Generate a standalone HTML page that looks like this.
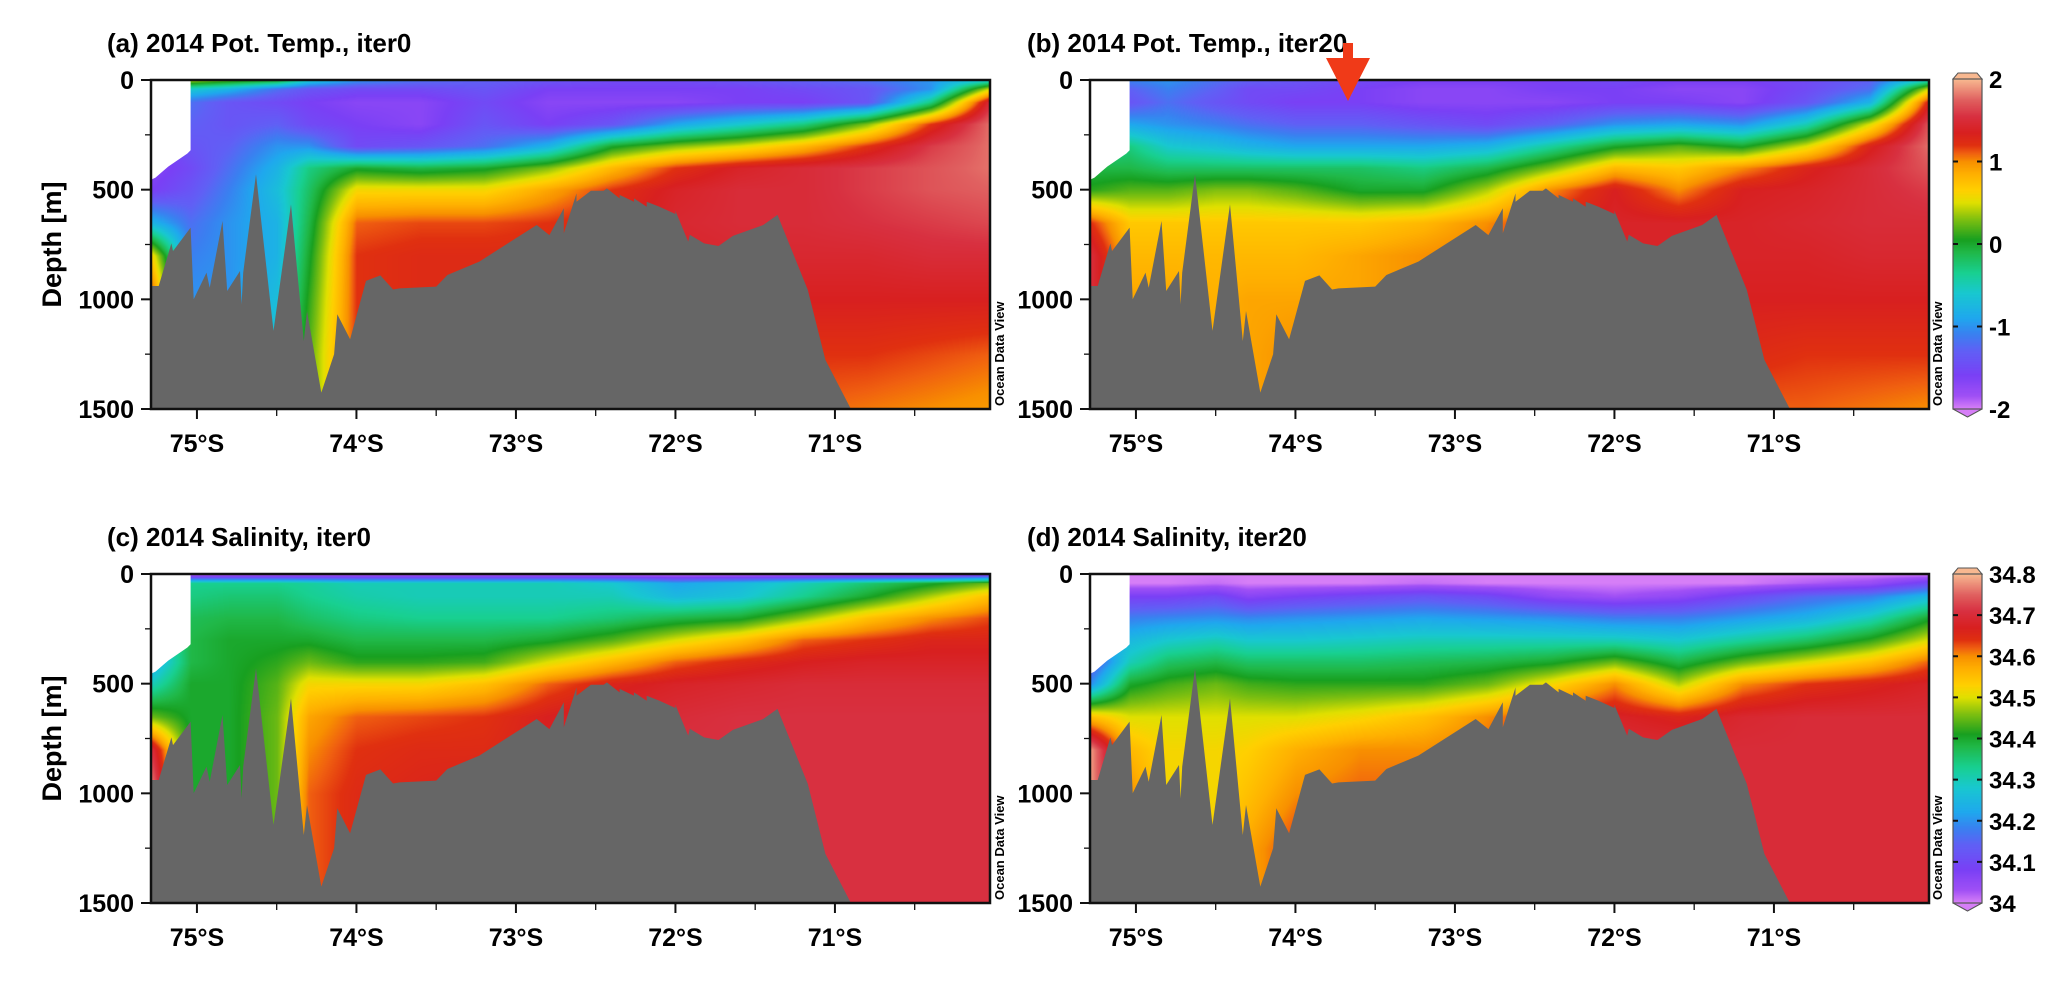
<!DOCTYPE html>
<html><head><meta charset="utf-8">
<style>
html,body{margin:0;padding:0;background:#fff;}
#root{position:relative;width:2067px;height:989px;overflow:hidden;font-family:"Liberation Sans",Arial,sans-serif;}
canvas{position:absolute;}
svg{position:absolute;left:0;top:0;}
text{font-family:"Liberation Sans",Arial,sans-serif;font-weight:bold;fill:#000;}
</style></head>
<body>
<div id="root">
<canvas id="cva" width="839" height="329" style="left:151px;top:80px"></canvas>
<canvas id="cvb" width="839" height="329" style="left:1090px;top:80px"></canvas>
<canvas id="cvc" width="839" height="329" style="left:151px;top:574px"></canvas>
<canvas id="cvd" width="839" height="329" style="left:1090px;top:574px"></canvas>
<canvas id="cb1" width="29" height="330" style="left:1953px;top:79px"></canvas>
<canvas id="cb2" width="29" height="329" style="left:1953px;top:574px"></canvas>
<svg id="ov" width="2067" height="989"></svg>
</div>
<script>
// ---- grid data ----
const lats=[75.28,75.04,74.8,74.5,74.3,74.0,73.6,73.2,72.8,72.4,72.0,71.6,71.2,70.8,70.4,70.03];
const depths=[0,40,100,200,300,400,500,650,800,1000,1250,1500];
const tempIter0=[
[-1.6,0.4,0.2,0.0,-0.6,-1.0,-1.2,-1.3,-1.4,-1.5,-1.5,-1.4,-1.3,-1.2,-1.0,-0.6],
[-1.6,-0.6,-0.8,-1.2,-1.4,-1.5,-1.5,-1.4,-1.6,-1.6,-1.6,-1.6,-1.5,-1.4,-1.0,0.5],
[-1.6,-1.2,-1.4,-1.5,-1.6,-1.7,-1.7,-1.5,-1.7,-1.7,-1.7,-1.6,-1.6,-1.4,-0.3,1.5],
[-1.7,-1.3,-1.4,-1.3,-1.5,-1.6,-1.7,-1.4,-1.6,-1.4,-0.9,-0.6,-0.3,0.3,1.2,1.8],
[-1.7,-1.4,-1.3,-1.0,-1.0,-1.5,-1.4,-1.2,-0.8,0.0,0.3,0.5,0.8,1.2,1.6,1.8],
[-1.7,-1.5,-1.2,-0.8,-0.3,0.0,-0.1,0.0,0.3,0.8,1.2,1.4,1.5,1.6,1.7,1.8],
[-1.6,-1.4,-1.1,-0.7,-0.2,0.6,0.6,0.6,0.9,1.2,1.4,1.5,1.5,1.6,1.7,1.75],
[-0.8,-1.2,-1.0,-0.8,-0.1,1.1,1.15,1.15,1.2,1.3,1.45,1.5,1.5,1.55,1.6,1.65],
[0.6,-1.1,-1.0,-0.8,0.0,1.2,1.25,1.25,1.25,1.3,1.4,1.45,1.45,1.45,1.5,1.5],
[1.2,-1.0,-1.0,-0.7,0.1,1.2,1.25,1.25,1.25,1.3,1.35,1.35,1.35,1.35,1.35,1.35],
[1.2,-1.0,-1.0,-0.6,0.2,1.2,1.2,1.15,1.15,1.2,1.2,1.2,1.2,1.2,1.15,1.1],
[1.2,-1.0,-1.0,-0.6,0.2,1.2,1.2,1.1,1.1,1.1,1.1,1.1,1.1,1.05,1.0,0.95]];
const tempIter20=[
[-1.5,-1.1,-1.0,-1.2,-1.3,-1.4,-1.5,-1.6,-1.6,-1.6,-1.5,-1.6,-1.6,-1.5,-1.3,-0.5],
[-1.5,-1.3,-1.1,-1.3,-1.5,-1.5,-1.6,-1.7,-1.7,-1.6,-1.6,-1.7,-1.7,-1.5,-1.2,0.5],
[-1.5,-1.4,-1.2,-1.4,-1.5,-1.6,-1.6,-1.7,-1.7,-1.7,-1.6,-1.6,-1.7,-1.4,-0.8,1.3],
[-1.2,-0.9,-1.0,-1.1,-1.2,-1.3,-1.3,-1.4,-1.5,-1.3,-1.0,-0.9,-1.0,-0.5,0.5,1.7],
[-0.4,-0.3,-0.6,-0.7,-0.8,-0.9,-0.9,-0.9,-0.8,-0.4,0.0,0.2,0.0,0.5,1.3,1.8],
[-0.1,-0.1,-0.2,-0.2,-0.2,-0.2,-0.2,-0.3,-0.1,0.3,0.8,0.7,1.0,1.3,1.5,1.7],
[0.1,0.2,0.2,0.3,0.3,0.2,0.0,0.0,0.4,1.0,1.35,1.0,1.35,1.4,1.5,1.6],
[1.2,0.7,0.7,0.7,0.7,0.7,0.7,0.8,1.0,1.3,1.4,1.4,1.4,1.45,1.5,1.5],
[1.5,0.8,0.8,0.8,0.8,0.8,0.9,1.0,1.1,1.35,1.4,1.4,1.4,1.4,1.45,1.45],
[1.5,0.9,0.9,0.85,0.9,0.9,0.9,1.0,1.1,1.3,1.35,1.35,1.35,1.35,1.35,1.35],
[1.5,0.9,0.9,0.85,0.9,1.0,1.0,1.0,1.1,1.2,1.25,1.25,1.25,1.2,1.2,1.2],
[1.5,0.9,0.9,0.85,0.9,1.0,1.0,1.0,1.1,1.1,1.1,1.1,1.1,1.1,1.05,1.0]];
const salIter0=[
[34.3,34.0,34.0,34.0,34.0,34.0,34.0,34.0,34.0,34.0,34.0,34.0,34.0,34.0,34.0,34.05],
[34.3,34.33,34.33,34.33,34.32,34.3,34.3,34.3,34.3,34.28,34.22,34.25,34.3,34.35,34.4,34.45],
[34.3,34.34,34.35,34.35,34.33,34.31,34.3,34.3,34.3,34.3,34.25,34.27,34.33,34.4,34.48,34.55],
[34.3,34.37,34.38,34.38,34.36,34.34,34.33,34.33,34.33,34.35,34.38,34.4,34.47,34.55,34.6,34.63],
[34.25,34.38,34.4,34.4,34.4,34.38,34.38,34.38,34.4,34.44,34.5,34.55,34.62,34.64,34.66,34.66],
[34.22,34.38,34.4,34.42,34.45,34.42,34.42,34.43,34.5,34.56,34.62,34.65,34.67,34.68,34.68,34.68],
[34.3,34.4,34.4,34.44,34.52,34.52,34.52,34.55,34.62,34.66,34.68,34.69,34.7,34.7,34.7,34.7],
[34.45,34.4,34.4,34.45,34.58,34.62,34.63,34.64,34.67,34.69,34.7,34.71,34.71,34.71,34.71,34.71],
[34.7,34.4,34.4,34.45,34.6,34.64,34.65,34.65,34.67,34.69,34.71,34.71,34.71,34.71,34.71,34.71],
[34.78,34.4,34.4,34.45,34.62,34.65,34.66,34.67,34.68,34.7,34.71,34.71,34.71,34.71,34.71,34.71],
[34.78,34.4,34.4,34.45,34.62,34.65,34.66,34.67,34.68,34.7,34.71,34.71,34.71,34.71,34.71,34.71],
[34.78,34.4,34.4,34.45,34.62,34.65,34.66,34.67,34.68,34.7,34.71,34.71,34.71,34.71,34.71,34.71]];
const salIter20=[
[34.1,34.0,34.0,34.0,34.0,34.0,34.0,34.0,34.0,34.0,34.0,34.0,34.0,34.0,34.0,34.0],
[34.1,34.0,34.0,34.01,34.0,34.0,34.0,34.01,34.0,34.0,34.0,34.0,34.0,34.02,34.04,34.1],
[34.12,34.08,34.08,34.1,34.06,34.08,34.1,34.12,34.1,34.05,34.03,34.05,34.1,34.15,34.18,34.25],
[34.18,34.18,34.19,34.2,34.19,34.2,34.21,34.22,34.21,34.2,34.18,34.18,34.21,34.24,34.3,34.4],
[34.2,34.25,34.28,34.3,34.28,34.28,34.29,34.3,34.3,34.3,34.3,34.28,34.32,34.36,34.42,34.5],
[34.12,34.3,34.36,34.38,34.36,34.36,34.36,34.37,34.38,34.4,34.45,34.38,34.45,34.5,34.55,34.62],
[34.2,34.4,34.43,34.45,34.43,34.42,34.42,34.42,34.45,34.52,34.6,34.48,34.6,34.64,34.66,34.68],
[34.55,34.5,34.5,34.5,34.5,34.5,34.52,34.55,34.6,34.65,34.68,34.66,34.69,34.7,34.7,34.7],
[34.78,34.56,34.52,34.52,34.53,34.57,34.6,34.6,34.62,34.67,34.7,34.7,34.7,34.7,34.7,34.7],
[34.78,34.6,34.52,34.52,34.55,34.6,34.62,34.62,34.64,34.68,34.7,34.7,34.7,34.7,34.7,34.7],
[34.78,34.6,34.52,34.53,34.58,34.64,34.64,34.64,34.65,34.68,34.7,34.7,34.7,34.7,34.7,34.7],
[34.78,34.6,34.52,34.53,34.58,34.64,34.64,34.64,34.65,34.68,34.7,34.7,34.7,34.7,34.7,34.7]];
const bathyLat=[75.288,75.24,75.16,75.15,75.04,75.02,74.94,74.92,74.84,74.81,74.73,74.72,74.71,74.63,74.52,74.41,74.33,74.31,74.22,74.14,74.12,74.04,73.94,73.85,73.77,73.73,73.50,73.43,73.23,72.87,72.79,72.70,72.70,72.62,72.62,72.53,72.45,72.43,72.35,72.35,72.26,72.26,72.18,72.18,72.10,72.00,72.00,71.92,71.91,71.82,71.73,71.64,71.45,71.36,71.17,71.06,70.90];
const bathyDepth=[939,939,745,780,673,1000,878,947,643,962,871,1023,878,430,1144,567,1190,1053,1425,1250,1068,1182,916,891,955,950,942,889,828,661,707,585,699,517,555,505,505,494,540,524,555,540,578,555,578,611,596,737,706,745,757,711,661,615,957,1276,1500];
const maskLat=[75.288,75.288,75.26,75.22,75.18,75.14,75.10,75.06,75.04,75.04];
const maskDepth=[0,455,445,420,395,375,355,335,320,0];
const tempTicks=[2,1,0,-1,-2];
const salTicks=[34.8,34.7,34.6,34.5,34.4,34.3,34.2,34.1,34];
const latTicks=[75,74,73,72,71];
const depthTicks=[0,500,1000,1500];

// ---- colormap ----
const CM=[[-2,'d67ef7'],[-1.85,'a050f5'],[-1.6,'7a40f5'],[-1.3,'6060f5'],[-1.1,'3a80f0'],[-0.9,'1fa8ee'],[-0.6,'18c8d0'],[-0.35,'18d090'],[-0.1,'20b848'],[0.05,'18a020'],[0.3,'80c010'],[0.5,'e0e000'],[0.65,'ffd000'],[0.85,'ffb000'],[1.0,'f89000'],[1.1,'f06010'],[1.2,'e03010'],[1.35,'d82020'],[1.55,'d83040'],[1.75,'e06060'],[2.0,'f8b890']];
const CMr=CM.map(s=>[s[0],parseInt(s[1].slice(0,2),16),parseInt(s[1].slice(2,4),16),parseInt(s[1].slice(4,6),16)]);
function cmap(t){
  if(t<=CMr[0][0])return CMr[0].slice(1);
  for(let i=1;i<CMr.length;i++){if(t<=CMr[i][0]){const a=CMr[i-1],b=CMr[i],f=(t-a[0])/(b[0]-a[0]);return [a[1]+(b[1]-a[1])*f,a[2]+(b[2]-a[2])*f,a[3]+(b[3]-a[3])*f];}}
  return CMr[CMr.length-1].slice(1);
}
// ---- scales ----
const PW=839,PH=329,LAT0=75.288,PXDEG=159.5;
function xs(lat){return (LAT0-lat)*PXDEG;}
function ys(d){return d/1500*PH;}
function interp(grid,lat,d){
  let i=0;while(i<lats.length-2&&lat<lats[i+1])i++;
  let fx=(lats[i]-lat)/(lats[i]-lats[i+1]);fx=Math.max(0,Math.min(1,fx));
  let j=0;while(j<depths.length-2&&d>depths[j+1])j++;
  let fy=(d-depths[j])/(depths[j+1]-depths[j]);fy=Math.max(0,Math.min(1,fy));
  const a=grid[j][i],b=grid[j][i+1],c=grid[j+1][i],e=grid[j+1][i+1];
  return (a*(1-fx)+b*fx)*(1-fy)+(c*(1-fx)+e*fx)*fy;
}
function drawField(id,grid,toT){
  const cv=document.getElementById(id),ctx=cv.getContext('2d');
  const img=ctx.createImageData(PW,PH);
  for(let y=0;y<PH;y++){const d=y/PH*1500;
    for(let x=0;x<PW;x++){const lat=LAT0-x/PXDEG;const c=cmap(toT(interp(grid,lat,d)));const k=(y*PW+x)*4;
      img.data[k]=c[0];img.data[k+1]=c[1];img.data[k+2]=c[2];img.data[k+3]=255;}}
  ctx.putImageData(img,0,0);
}
const idT=v=>v, salT=v=>(v-34.4)*5;
drawField('cva',tempIter0,idT);drawField('cvb',tempIter20,idT);
drawField('cvc',salIter0,salT);drawField('cvd',salIter20,salT);
function drawBar(id){const cv=document.getElementById(id),ctx=cv.getContext('2d');const h=cv.height;
  for(let y=0;y<h;y++){const c=cmap(2-4*y/(h-1));ctx.fillStyle='rgb('+c.map(Math.round).join(',')+')';ctx.fillRect(0,y,29,1);}}
drawBar('cb1');drawBar('cb2');

// ---- overlay ----
const NS='http://www.w3.org/2000/svg',ov=document.getElementById('ov');
function mk(tag,attrs,parent){const e=document.createElementNS(NS,tag);for(const k in attrs)e.setAttribute(k,attrs[k]);(parent||ov).appendChild(e);return e;}
const panels=[
 {x:151,y:80,id:'a',title:'(a)  2014 Pot. Temp., iter0',left:true},
 {x:1090,y:80,id:'b',title:'(b)  2014 Pot. Temp., iter20',left:false},
 {x:151,y:574,id:'c',title:'(c)  2014 Salinity, iter0',left:true},
 {x:1090,y:574,id:'d',title:'(d)  2014 Salinity, iter20',left:false}];
panels.forEach(p=>{
  const g=mk('g',{transform:'translate('+p.x+','+p.y+')'});
  
  
  let pts=maskLat.map((l,i)=>xs(l).toFixed(1)+','+ys(maskDepth[i]).toFixed(1)).join(' ');
  const m=mk('polygon',{points:pts,fill:'#fff'},g);
  
  
  pts=bathyLat.map((l,i)=>xs(l).toFixed(1)+','+ys(bathyDepth[i]).toFixed(1)).join(' ')+' '+xs(70.90).toFixed(1)+','+PH+' 0,'+PH;
  const b=mk('polygon',{points:pts,fill:'#666666'},g);
  
  
  const fr=mk('rect',{x:0,y:0,width:PW,height:PH,fill:'none',stroke:'#111',"stroke-width":2.5},g);
  
  
  for(let d=0;d<=1500;d+=250){const y=ys(d);const major=d%500===0;
    mk('line',{x1:major?-10:-6,x2:0,y1:y,y2:y,stroke:'#111',"stroke-width":major?2:1.3},g);}
  depthTicks.forEach(d=>{const t=mk('text',{x:-17,y:ys(d)+9,"text-anchor":'end',"font-size":25},g);t.textContent=d;
    
    });
  for(let l=75.5;l>=70.0;l-=0.5){const x=xs(l);if(x<0||x>PW)continue;const major=Math.abs(l-Math.round(l))<0.01;
    mk('line',{x1:x,x2:x,y1:PH,y2:PH+(major?10:7),stroke:'#111',"stroke-width":major?2:1.3},g);}
  latTicks.forEach(l=>{const t=mk('text',{x:xs(l),y:PH+43,"text-anchor":'middle',"font-size":25},g);t.textContent=l+'\u00B0S';
    
    });
  const tt=mk('text',{x:(p.left?107:1027)-p.x,y:-28,"font-size":26},g);tt.textContent=p.title;
  
  
  const ox=p.left?853:852;
  const od=mk('text',{transform:'translate('+(ox)+','+(PH-3)+') rotate(-90)',"font-size":13},g);od.textContent='Ocean Data View';
  
  
  if(p.left){const yl=mk('text',{transform:'translate('+(61-p.x)+','+(PH/2)+') rotate(-90)',"text-anchor":'middle',"font-size":27},g);yl.textContent='Depth [m]';
    
    }
});
function bar(top,h,ticks,vmin,vmax,name){
  const g=mk('g',{});
  
  
  const x0=1953,x1=1982;
  const tc=cmap(2),bc=cmap(-2);
  mk('polygon',{points:`${x0},${top} ${x0+5},${top-6} ${x1-5},${top-6} ${x1},${top}`,fill:'rgb('+tc.map(Math.round).join(',')+')',stroke:'#555',"stroke-width":1},g);
  mk('polygon',{points:`${x0},${top+h} ${(x0+x1)/2},${top+h+8} ${x1},${top+h}`,fill:'rgb('+bc.map(Math.round).join(',')+')',stroke:'#555',"stroke-width":1},g);
  mk('rect',{x:x0,y:top,width:x1-x0,height:h,fill:'none',stroke:'#555',"stroke-width":1.2},g);
  ticks.forEach(v=>{const y=top+(vmax-v)/(vmax-vmin)*h;
    if(v!==vmax&&v!==vmin){mk('line',{x1:x0,x2:x0+5,y1:y,y2:y,stroke:'#111',"stroke-width":2},g);mk('line',{x1:x1-5,x2:x1,y1:y,y2:y,stroke:'#111',"stroke-width":2},g);}
    const t=mk('text',{x:1989,y:y+9,"font-size":24},g);t.textContent=v;
    
    });
}
bar(79,330,tempTicks,-2,2,'temp-colorbar-axis');
bar(574,329,salTicks,34,34.8,'salinity-colorbar-axis');
const ar=mk('polygon',{points:'1343,43 1353,43 1353,58 1370,58 1348,101 1326,58 1343,58',fill:'#f03a18'});


</script>
</body></html>
